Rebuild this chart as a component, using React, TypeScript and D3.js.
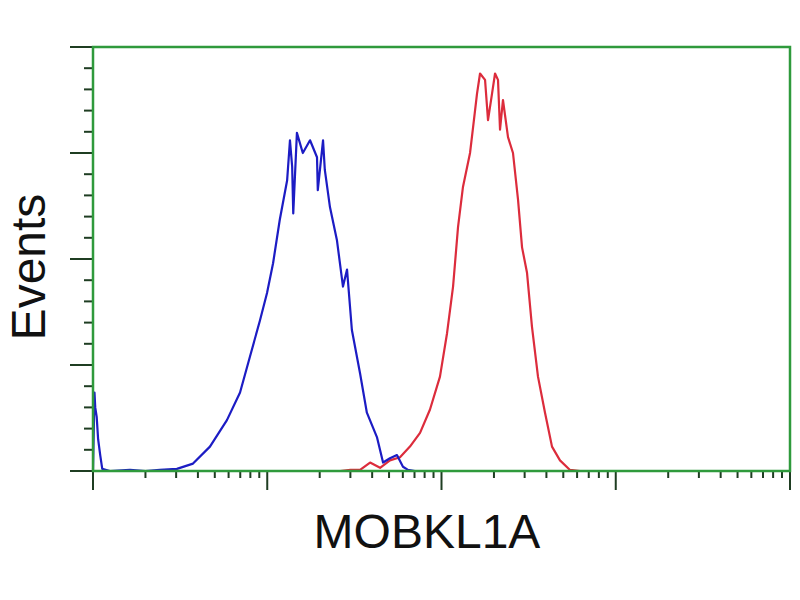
import React from "react";
import * as d3 from "d3";

const xLabel = "MOBKL1A";
const yLabel = "Events";

const blueIntensity = [1.0, 1.02, 1.03, 1.05, 1.07, 1.1, 1.13, 1.25, 1.63, 2.0, 2.42, 3.03, 3.75, 4.69, 5.87, 6.98, 7.96, 9.08, 9.97, 10.8, 11.8, 13.0, 13.5, 13.9, 14.1, 14.8, 16.0, 17.6, 19.3, 19.5, 20.9, 21.4, 22.9, 25.1, 27.2, 28.7, 30.6, 34.1, 37.3, 42.6, 46.2, 50.6, 55.5, 60.1, 64.2, 70.4];
const blueCount = [0, 74, 60, 51, 30, 15, 2, 0, 1, 0, 1, 2, 7, 23, 48, 74, 108, 142, 168, 196, 237, 274, 312, 287, 243, 319, 300, 312, 296, 265, 312, 284, 249, 218, 174, 190, 133, 92, 55, 32, 8, 12, 15, 4, 1, 0];

const redIntensity = [20, 26.2, 30, 34.1, 38.9, 44.4, 50.6, 57.8, 65.9, 75.3, 85.9, 98.0, 107.6, 116.5, 124.4, 132.8, 145.8, 151.7, 159.9, 166.4, 177.8, 184.9, 195.0, 202.9, 211.0, 216.7, 225.3, 240.8, 257.2, 274.9, 289.9, 309.6, 330.6, 357.9, 392.7, 430.7, 478.6, 546.2, 623.5];
const redCount = [0, 0, 1, 1, 8, 3, 10, 13, 23, 36, 58, 89, 130, 174, 230, 268, 300, 324, 356, 375, 369, 331, 356, 375, 369, 322, 350, 315, 300, 256, 211, 187, 136, 89, 55, 23, 10, 1, 0];

const xDecades = [1, 10, 100, 1000, 10000];
const yTicks = d3.range(0, 401, 20);

export default function App() {
  const left = 93, right = 790, top = 47, bottom = 471;
  const x = d3.scaleLog().domain([1, 10000]).range([left, right]);
  const y = d3.scaleLinear().domain([0, 400]).range([bottom, top]);

  const xTicks: { v: number; major: boolean }[] = [];
  for (let i = 0; i < xDecades.length - 1; i++) {
    for (let k = 1; k <= 9; k++) xTicks.push({ v: k * xDecades[i], major: k === 1 });
  }
  xTicks.push({ v: 10000, major: true });

  const line = d3
    .line<[number, number]>()
    .x((d) => x(d[0]))
    .y((d) => y(d[1]));

  const blue = blueIntensity.map((v, i) => [v, blueCount[i]] as [number, number]);
  const red = redIntensity.map((v, i) => [v, redCount[i]] as [number, number]);

  const green = "#2f9a3c";
  const tickCol = "#1f3d22";

  return (
    <svg width={800} height={600} style={{ position: "absolute", left: 0, top: 0, background: "#fff" }}>
      <rect x={0} y={0} width={800} height={600} fill="#fff" />
      {yTicks.map((t) => (
        <line
          key={"y" + t}
          x1={t % 100 === 0 ? left - 23 : left - 9}
          x2={left}
          y1={y(t)}
          y2={y(t)}
          stroke={tickCol}
          strokeWidth={2}
        />
      ))}
      {xTicks.map((t, i) => (
        <line
          key={"x" + i}
          x1={x(t.v)}
          x2={x(t.v)}
          y1={bottom}
          y2={t.major ? bottom + 19 : bottom + 7}
          stroke={tickCol}
          strokeWidth={2}
        />
      ))}
      <path d={line(red) || ""} fill="none" stroke="#dc2c3c" strokeWidth={2.2} strokeLinejoin="round" />
      <path d={line(blue) || ""} fill="none" stroke="#1c1cc4" strokeWidth={2.2} strokeLinejoin="round" />
      <rect x={left} y={top} width={right - left} height={bottom - top} fill="none" stroke={green} strokeWidth={2.5} />
      <text
        x={427}
        y={548}
        textAnchor="middle"
        fontFamily="Liberation Sans, Arial, sans-serif"
        fontSize={48}
        fill="#111"
      >
        {xLabel}
      </text>
      <text
        transform={`translate(45,267) rotate(-90)`}
        textAnchor="middle"
        fontFamily="Liberation Sans, Arial, sans-serif"
        fontSize={48}
        fill="#111"
      >
        {yLabel}
      </text>
    </svg>
  );
}
